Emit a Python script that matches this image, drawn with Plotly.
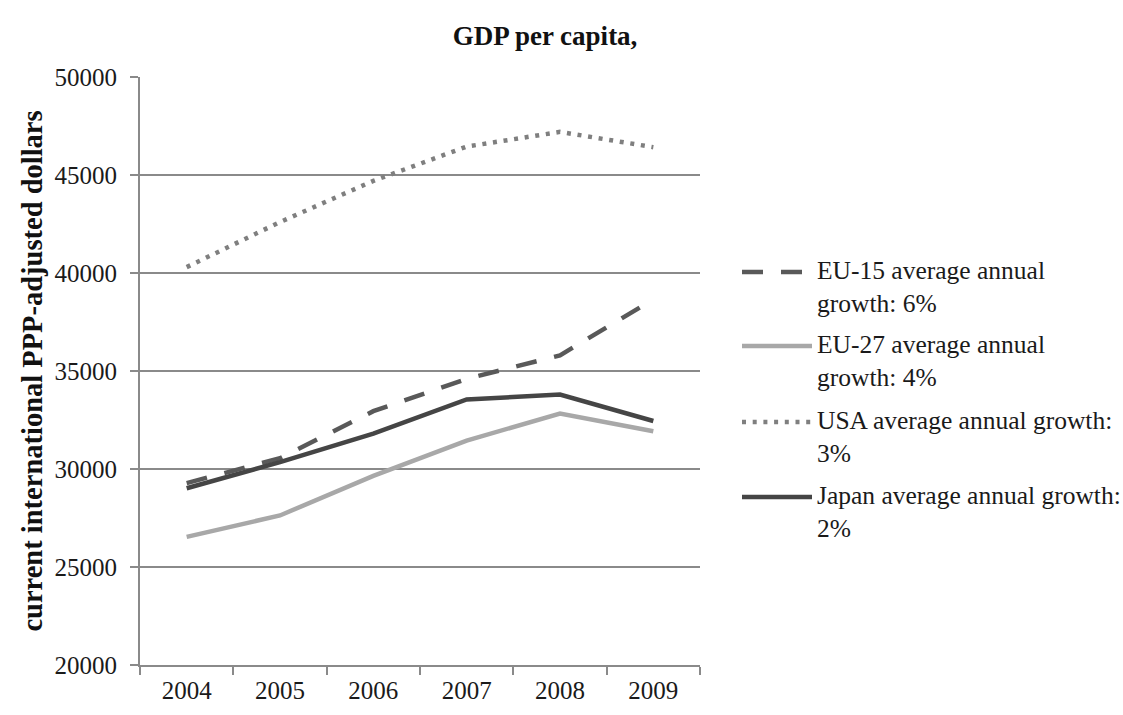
import plotly.graph_objects as go

# GDP per capita, current international PPP-adjusted dollars
years = ["2004", "2005", "2006", "2007", "2008", "2009"]
eu15 = [29280, 30550, 32950, 34600, 35800, 38650]
eu27 = [26540, 27630, 29650, 31450, 32830, 31930]
usa = [40300, 42600, 44700, 46450, 47200, 46420]
japan = [29020, 30350, 31800, 33550, 33800, 32450]

series_names = [
    "EU-15 average annual<br>growth: 6%",
    "EU-27 average annual<br>growth: 4%",
    "USA average annual growth:<br>3%",
    "Japan average annual growth:<br>2%",
]
y_ticks = [20000, 25000, 30000, 35000, 40000, 45000, 50000]

FONT = "Liberation Serif, Times New Roman, serif"
GRID = "#8a8a8a"
TEXT = "#1a1a1a"

styles = [
    dict(color="#595959", width=4.5, dash="21px,18px"),
    dict(color="#a8a8a8", width=4.5, dash="solid"),
    dict(color="#7f7f7f", width=4.5, dash="4px,6.7px"),
    dict(color="#454545", width=4.5, dash="solid"),
]

fig = go.Figure()
for values, name, st in zip([eu15, eu27, usa, japan], series_names, styles):
    fig.add_trace(go.Scatter(
        x=years, y=values, mode="lines", name=name,
        line=dict(color=st["color"], width=st["width"], dash=st["dash"]),
        showlegend=False,
    ))

# plot-area geometry in pixels (for the hand-built legend)
L, R, T, B = 140, 700, 77, 665
W, H = R - L, B - T


def px_x(p):
    return (p - L) / W


def px_y(p):
    return (B - p) / H


legend_rows = [272, 346, 422, 497]
for row, name, st in zip(legend_rows, series_names, styles):
    x_end = 803 if st["dash"] == "21px,18px" else 812
    fig.add_shape(
        type="line", xref="paper", yref="paper",
        x0=px_x(742), x1=px_x(x_end), y0=px_y(row), y1=px_y(row),
        line=dict(color=st["color"], width=st["width"], dash=st["dash"]),
    )
    fig.add_annotation(
        xref="paper", yref="paper", x=px_x(815), y=px_y(row + 15),
        xanchor="left", yanchor="middle", align="left",
        text=name, showarrow=False,
        font=dict(family=FONT, size=25.5, color=TEXT),
    )

fig.update_layout(
    width=1123, height=715,
    margin=dict(l=L, r=1123 - R, t=T, b=715 - B),
    paper_bgcolor="white", plot_bgcolor="white",
    font=dict(family=FONT, size=25, color=TEXT),
    title=dict(
        text="<b>GDP per capita,</b>",
        x=545 / 1123, xanchor="center", y=1 - 36 / 715, yanchor="middle",
        font=dict(family=FONT, size=27, color="#111111"),
    ),
)

fig.update_xaxes(
    type="category", range=[-0.5, 5.5],
    showline=True, linecolor=GRID, linewidth=2,
    ticks="outside", ticklen=8, tickcolor=GRID, tickwidth=2,
    tickson="boundaries", showgrid=False,
    tickfont=dict(family=FONT, size=25, color=TEXT),
    ticklabelstandoff=2,
)
fig.update_yaxes(
    range=[20000, 50000], tickvals=y_ticks,
    ticktext=[str(v) for v in y_ticks],
    showline=True, linecolor=GRID, linewidth=2,
    ticks="outside", ticklen=8, tickcolor=GRID, tickwidth=2,
    showgrid=True, gridcolor=GRID, gridwidth=2,
    zeroline=False,
    tickfont=dict(family=FONT, size=25, color=TEXT),
    ticklabelstandoff=8,
    title=dict(
        text="<b>current international PPP-adjusted dollars</b>",
        font=dict(family=FONT, size=28.5, color="#111111"),
        standoff=4,
    ),
)

fig.write_html("out.html")
